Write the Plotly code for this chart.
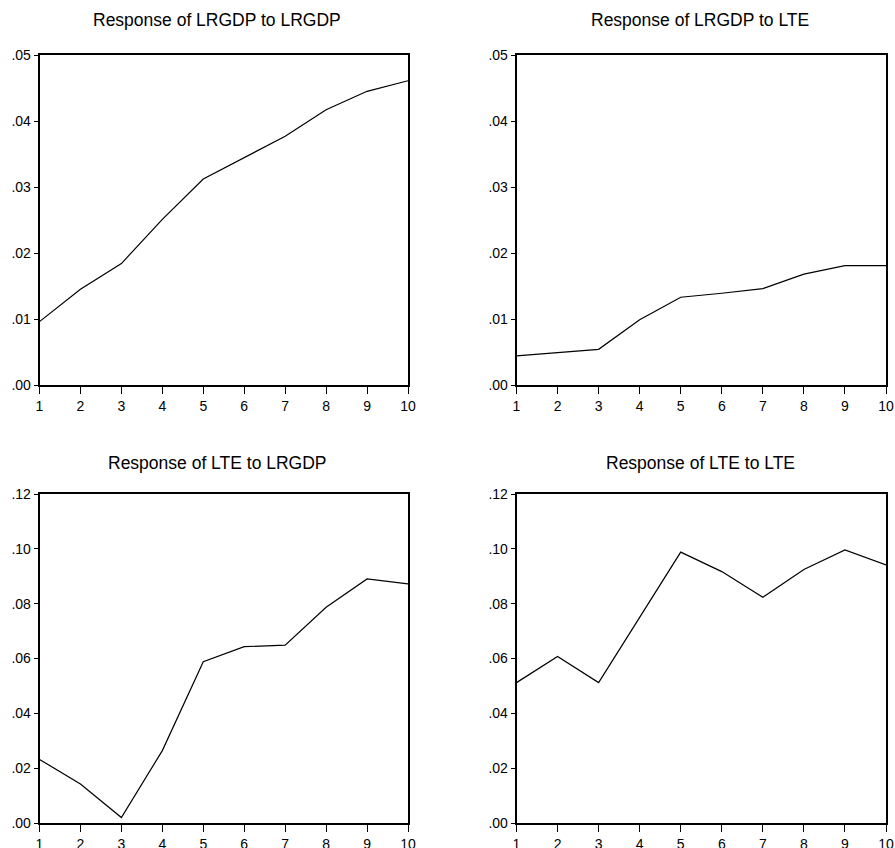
import plotly.graph_objects as go

periods = [1, 2, 3, 4, 5, 6, 7, 8, 9, 10]
lrgdp_to_lrgdp = [0.0096, 0.0145, 0.0184, 0.0251, 0.0312, 0.0344, 0.0377, 0.0417, 0.0445, 0.0461]
lrgdp_to_lte = [0.0044, 0.0049, 0.0054, 0.0099, 0.0133, 0.0139, 0.0146, 0.0168, 0.0181, 0.0181]
lte_to_lrgdp = [0.0232, 0.0142, 0.0020, 0.0264, 0.0588, 0.0643, 0.0649, 0.0787, 0.0890, 0.0872]
lte_to_lte = [0.0512, 0.0607, 0.0512, 0.0750, 0.0988, 0.0917, 0.0823, 0.0925, 0.0996, 0.0941]

titles = ["Response of LRGDP to LRGDP", "Response of LRGDP to LTE",
          "Response of LTE to LRGDP", "Response of LTE to LTE"]
top_ticks = [0.0, 0.01, 0.02, 0.03, 0.04, 0.05]
top_ticktext = [".00", ".01", ".02", ".03", ".04", ".05"]
bot_ticks = [0.0, 0.02, 0.04, 0.06, 0.08, 0.10, 0.12]
bot_ticktext = [".00", ".02", ".04", ".06", ".08", ".10", ".12"]

W, H = 895, 848


def px(v):
    return v / W


def py(v):
    return (H - v) / H


xdoms = [[px(39.5), px(408)], [px(516.5), px(886)]]
ydoms = [[py(385), py(55)], [py(823), py(494)]]
title_cx = [px(217), px(700)]

series = [lrgdp_to_lrgdp, lrgdp_to_lte, lte_to_lrgdp, lte_to_lte]
font = "Liberation Sans, Arial, sans-serif"

fig = go.Figure()
layout = dict(
    width=W, height=H, margin=dict(l=0, r=0, t=0, b=0, autoexpand=False),
    paper_bgcolor="white", plot_bgcolor="white", showlegend=False,
    font=dict(family=font, size=14, color="black"),
)
annotations = []
for i in range(4):
    r, c = divmod(i, 2)
    n = "" if i == 0 else str(i + 1)
    xa, ya = "x" + n, "y" + n
    fig.add_trace(go.Scatter(x=periods, y=series[i], mode="lines",
                             line=dict(color="black", width=1.2),
                             xaxis=xa, yaxis=ya, cliponaxis=False))
    layout["xaxis" + n] = dict(
        domain=xdoms[c], anchor=ya, range=[1, 10], tickvals=periods,
        ticks="outside", ticklen=7, tickwidth=1, tickcolor="black",
        showline=True, mirror=True, linecolor="black", linewidth=1.8,
        showgrid=False, zeroline=False, fixedrange=True, automargin=False,
        tickfont=dict(family=font, size=14, color="black"),
    )
    if r == 0:
        tv, tt, rng = top_ticks, top_ticktext, [0, 0.05]
    else:
        tv, tt, rng = bot_ticks, bot_ticktext, [0, 0.12]
    layout["yaxis" + n] = dict(
        domain=ydoms[r], anchor=xa, range=rng, tickvals=tv, ticktext=tt,
        ticks="outside", ticklen=4, tickwidth=1, tickcolor="black",
        showline=True, mirror=True, linecolor="black", linewidth=1.8,
        showgrid=False, zeroline=False, fixedrange=True, automargin=False,
        tickfont=dict(family=font, size=14, color="black"),
    )
    ty = py(20) if r == 0 else py(463)
    annotations.append(dict(text=titles[i], x=title_cx[c], y=ty, xref="paper", yref="paper",
                            xanchor="center", yanchor="middle", showarrow=False,
                            font=dict(family=font, size=17.5, color="black")))
layout["annotations"] = annotations
fig.update_layout(**layout)
fig.write_html(
    "out.html",
    config={"displayModeBar": False, "staticPlot": True},
    post_script="document.body.style.margin='0';document.body.style.overflow='hidden';",
)
